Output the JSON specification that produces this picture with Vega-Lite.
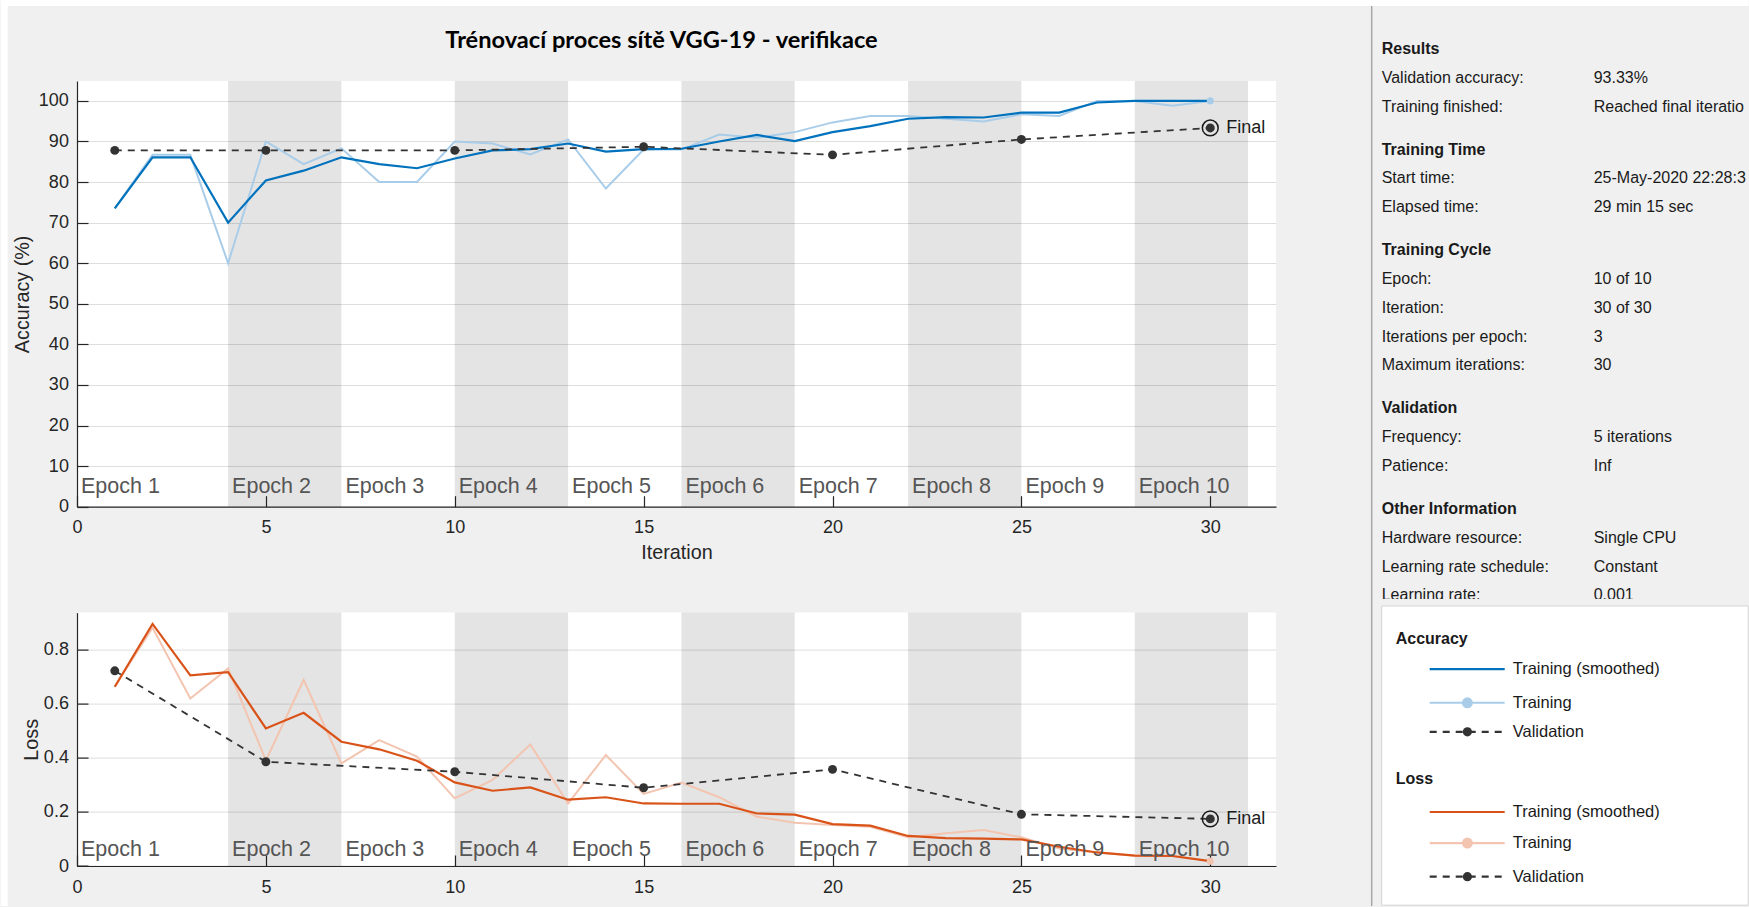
{
  "$schema": "https://vega.github.io/schema/vega-lite/v6.json",
  "background": "#f0f0f0",
  "padding": 0,
  "autosize": {"type": "pad"},
  "config": {
    "font": "Liberation Sans",
    "view": {"stroke": null},
    "axis": {
      "labelFont": "Liberation Sans", "labelFontSize": 18, "labelColor": "#262626", "labelFlush": false,
      "titleFont": "Liberation Sans", "titleFontSize": 19.8, "titleFontWeight": "normal", "titleColor": "#262626",
      "domainColor": "#262626", "domainWidth": 1.2,
      "tickColor": "#262626", "tickSize": -11, "tickWidth": 1.2,
      "gridColor": "#dedede", "gridWidth": 1
    }
  },
  "datasets": {
    "train": [
      {"it": 1, "accRaw": 73.5, "accSmooth": 73.5, "lossRaw": 0.662, "lossSmooth": 0.662},
      {"it": 2, "accRaw": 86.7, "accSmooth": 86.1, "lossRaw": 0.88, "lossSmooth": 0.894},
      {"it": 3, "accRaw": 86.7, "accSmooth": 86.1, "lossRaw": 0.619, "lossSmooth": 0.704},
      {"it": 4, "accRaw": 60.0, "accSmooth": 70.0, "lossRaw": 0.73, "lossSmooth": 0.716},
      {"it": 5, "accRaw": 90.0, "accSmooth": 80.4, "lossRaw": 0.39, "lossSmooth": 0.508},
      {"it": 6, "accRaw": 84.4, "accSmooth": 82.8, "lossRaw": 0.687, "lossSmooth": 0.566},
      {"it": 7, "accRaw": 88.3, "accSmooth": 86.1, "lossRaw": 0.379, "lossSmooth": 0.459},
      {"it": 8, "accRaw": 80.0, "accSmooth": 84.4, "lossRaw": 0.465, "lossSmooth": 0.431},
      {"it": 9, "accRaw": 80.0, "accSmooth": 83.4, "lossRaw": 0.404, "lossSmooth": 0.389},
      {"it": 10, "accRaw": 90.0, "accSmooth": 85.8, "lossRaw": 0.25, "lossSmooth": 0.309},
      {"it": 11, "accRaw": 89.5, "accSmooth": 87.8, "lossRaw": 0.318, "lossSmooth": 0.278},
      {"it": 12, "accRaw": 86.8, "accSmooth": 88.1, "lossRaw": 0.449, "lossSmooth": 0.29},
      {"it": 13, "accRaw": 90.5, "accSmooth": 89.5, "lossRaw": 0.231, "lossSmooth": 0.245},
      {"it": 14, "accRaw": 78.4, "accSmooth": 87.5, "lossRaw": 0.41, "lossSmooth": 0.254},
      {"it": 15, "accRaw": 88.0, "accSmooth": 88.1, "lossRaw": 0.266, "lossSmooth": 0.231},
      {"it": 16, "accRaw": 88.0, "accSmooth": 88.2, "lossRaw": 0.308, "lossSmooth": 0.23},
      {"it": 17, "accRaw": 91.7, "accSmooth": 90.0, "lossRaw": 0.254, "lossSmooth": 0.23},
      {"it": 18, "accRaw": 90.9, "accSmooth": 91.6, "lossRaw": 0.182, "lossSmooth": 0.194},
      {"it": 19, "accRaw": 92.3, "accSmooth": 90.1, "lossRaw": 0.16, "lossSmooth": 0.19},
      {"it": 20, "accRaw": 94.7, "accSmooth": 92.3, "lossRaw": 0.151, "lossSmooth": 0.155},
      {"it": 21, "accRaw": 96.3, "accSmooth": 93.8, "lossRaw": 0.145, "lossSmooth": 0.149},
      {"it": 22, "accRaw": 96.3, "accSmooth": 95.6, "lossRaw": 0.106, "lossSmooth": 0.111},
      {"it": 23, "accRaw": 95.6, "accSmooth": 96.0, "lossRaw": 0.121, "lossSmooth": 0.103},
      {"it": 24, "accRaw": 94.9, "accSmooth": 95.9, "lossRaw": 0.133, "lossSmooth": 0.101},
      {"it": 25, "accRaw": 96.7, "accSmooth": 97.1, "lossRaw": 0.106, "lossSmooth": 0.098},
      {"it": 26, "accRaw": 96.3, "accSmooth": 97.1, "lossRaw": 0.065, "lossSmooth": 0.071},
      {"it": 27, "accRaw": 100, "accSmooth": 99.6, "lossRaw": 0.05, "lossSmooth": 0.05},
      {"it": 28, "accRaw": 100, "accSmooth": 100, "lossRaw": 0.039, "lossSmooth": 0.038},
      {"it": 29, "accRaw": 98.8, "accSmooth": 100, "lossRaw": 0.037, "lossSmooth": 0.037},
      {"it": 30, "accRaw": 100, "accSmooth": 100, "lossRaw": 0.018, "lossSmooth": 0.018}
    ],
    "val": [
      {"it": 1, "acc": 87.8, "loss": 0.721},
      {"it": 5, "acc": 87.8, "loss": 0.385},
      {"it": 10, "acc": 87.8, "loss": 0.348},
      {"it": 15, "acc": 88.7, "loss": 0.289},
      {"it": 20, "acc": 86.7, "loss": 0.357},
      {"it": 25, "acc": 90.5, "loss": 0.191},
      {"it": 30, "acc": 93.33, "loss": 0.174}
    ],
    "epochs": [
      {"epoch": "Epoch 1", "start": 0, "end": 4, "shaded": false},
      {"epoch": "Epoch 2", "start": 4, "end": 7, "shaded": true},
      {"epoch": "Epoch 3", "start": 7, "end": 10, "shaded": false},
      {"epoch": "Epoch 4", "start": 10, "end": 13, "shaded": true},
      {"epoch": "Epoch 5", "start": 13, "end": 16, "shaded": false},
      {"epoch": "Epoch 6", "start": 16, "end": 19, "shaded": true},
      {"epoch": "Epoch 7", "start": 19, "end": 22, "shaded": false},
      {"epoch": "Epoch 8", "start": 22, "end": 25, "shaded": true},
      {"epoch": "Epoch 9", "start": 25, "end": 28, "shaded": false},
      {"epoch": "Epoch 10", "start": 28, "end": 31, "shaded": true}
    ],
    "info": [
      {"line": 0, "label": "Results", "value": "", "kind": "heading"},
      {"line": 1, "label": "Validation accuracy:", "value": "93.33%", "kind": "item"},
      {"line": 2, "label": "Training finished:", "value": "Reached final iteration", "kind": "item"},
      {"line": 3.5, "label": "Training Time", "value": "", "kind": "heading"},
      {"line": 4.5, "label": "Start time:", "value": "25-May-2020 22:28:34", "kind": "item"},
      {"line": 5.5, "label": "Elapsed time:", "value": "29 min 15 sec", "kind": "item"},
      {"line": 7, "label": "Training Cycle", "value": "", "kind": "heading"},
      {"line": 8, "label": "Epoch:", "value": "10 of 10", "kind": "item"},
      {"line": 9, "label": "Iteration:", "value": "30 of 30", "kind": "item"},
      {"line": 10, "label": "Iterations per epoch:", "value": "3", "kind": "item"},
      {"line": 11, "label": "Maximum iterations:", "value": "30", "kind": "item"},
      {"line": 12.5, "label": "Validation", "value": "", "kind": "heading"},
      {"line": 13.5, "label": "Frequency:", "value": "5 iterations", "kind": "item"},
      {"line": 14.5, "label": "Patience:", "value": "Inf", "kind": "item"},
      {"line": 16, "label": "Other Information", "value": "", "kind": "heading"},
      {"line": 17, "label": "Hardware resource:", "value": "Single CPU", "kind": "item"},
      {"line": 18, "label": "Learning rate schedule:", "value": "Constant", "kind": "item"},
      {"line": 19, "label": "Learning rate:", "value": "0.001", "kind": "item"}
    ],
    "legend": [
      {"line": 20.52, "label": "Accuracy", "kind": "heading", "series": "none", "marker": "none"},
      {"line": 21.57, "label": "Training (smoothed)", "kind": "entry", "series": "accSmooth", "marker": "none"},
      {"line": 22.74, "label": "Training", "kind": "entry", "series": "accRaw", "marker": "raw"},
      {"line": 23.75, "label": "Validation", "kind": "entry", "series": "accVal", "marker": "val"},
      {"line": 25.38, "label": "Loss", "kind": "heading", "series": "none", "marker": "none"},
      {"line": 26.54, "label": "Training (smoothed)", "kind": "entry", "series": "lossSmooth", "marker": "none"},
      {"line": 27.62, "label": "Training", "kind": "entry", "series": "lossRaw", "marker": "raw"},
      {"line": 28.79, "label": "Validation", "kind": "entry", "series": "lossVal", "marker": "val"}
    ],
    "one": [{"k": 1}]
  },
  "columns": 2,
  "spacing": {"row": 105.6, "column": 95.7},
  "bounds": "flush",
  "concat": [
    {
      "width": 1199, "height": 425.7,
      "view": {"fill": "white", "stroke": null},
      "title": {"text": "Trénovací proces sítě VGG-19 - verifikace", "font": "Lato", "fontSize": 23.6, "fontWeight": "bold", "color": "#000000", "anchor": "middle", "offset": 28, "dx": -15},
      "layer": [
        {
          "data": {"name": "epochs"},
          "transform": [{"filter": "datum.shaded"}],
          "mark": {"type": "rect", "color": "#000000", "opacity": 0.105},
          "encoding": {
            "x": {"field": "start", "type": "quantitative"},
            "x2": {"field": "end"}
          }
        },
        {
          "data": {"name": "train"},
          "mark": {"type": "line", "color": "#a9cde9", "strokeWidth": 2},
          "encoding": {
            "x": {"field": "it", "type": "quantitative", "scale": {"domain": [0, 31.74], "nice": false, "zero": false},
                  "axis": {"title": "Iteration", "values": [0, 5, 10, 15, 20, 25, 30], "grid": false, "labelPadding": 23, "titlePadding": 6}},
            "y": {"field": "accRaw", "type": "quantitative", "scale": {"domain": [0, 104.9], "nice": false},
                  "axis": {"title": "Accuracy (%)", "values": [0, 10, 20, 30, 40, 50, 60, 70, 80, 90, 100], "grid": true, "labelPadding": 19.6, "titlePadding": 6}}
          }
        },
        {
          "data": {"name": "train"},
          "mark": {"type": "line", "color": "#0072bd", "strokeWidth": 2.2},
          "encoding": {
            "x": {"field": "it", "type": "quantitative"},
            "y": {"field": "accSmooth", "type": "quantitative"}
          }
        },
        {
          "data": {"name": "val"},
          "mark": {"type": "line", "color": "#333333", "strokeWidth": 1.8, "strokeDash": [7, 6]},
          "encoding": {
            "x": {"field": "it", "type": "quantitative"},
            "y": {"field": "acc", "type": "quantitative"}
          }
        },
        {
          "data": {"name": "val"},
          "mark": {"type": "point", "shape": "circle", "filled": true, "color": "#333333", "opacity": 1, "size": 80},
          "encoding": {
            "x": {"field": "it", "type": "quantitative"},
            "y": {"field": "acc", "type": "quantitative"}
          }
        },
        {
          "data": {"name": "train"},
          "transform": [{"filter": "datum.it == 30"}],
          "mark": {"type": "point", "shape": "circle", "filled": true, "color": "#a9cde9", "opacity": 1, "size": 50},
          "encoding": {
            "x": {"field": "it", "type": "quantitative"},
            "y": {"field": "accRaw", "type": "quantitative"}
          }
        },
        {
          "data": {"name": "val"},
          "transform": [{"filter": "datum.it == 30"}],
          "mark": {"type": "point", "shape": "circle", "filled": false, "color": "#1a1a1a", "strokeWidth": 1.5, "opacity": 1, "size": 250},
          "encoding": {
            "x": {"field": "it", "type": "quantitative"},
            "y": {"field": "acc", "type": "quantitative"}
          }
        },
        {
          "data": {"name": "val"},
          "transform": [{"filter": "datum.it == 30"}],
          "mark": {"type": "text", "align": "left", "baseline": "middle", "dx": 16, "fontSize": 18, "color": "#1a1a1a", "text": "Final"},
          "encoding": {
            "x": {"field": "it", "type": "quantitative"},
            "y": {"field": "acc", "type": "quantitative"}
          }
        },
        {
          "data": {"name": "epochs"},
          "mark": {"type": "text", "align": "left", "baseline": "alphabetic", "dx": 4, "dy": -13.4, "fontSize": 21.5, "color": "#555555"},
          "encoding": {
            "x": {"field": "start", "type": "quantitative"},
            "y": {"datum": 0, "type": "quantitative"},
            "text": {"field": "epoch"}
          }
        }
      ]
    },
    {
      "width": 378, "height": 425.7,
      "view": {"stroke": null},
      "layer": [
        {
          "data": {"name": "one"},
          "mark": {"type": "rect", "color": "#ffffff"},
          "encoding": {
            "x": {"datum": -362.698, "type": "quantitative", "scale": {"domain": [0, 100], "nice": false, "zero": false}, "axis": null},
            "x2": {"datum": 99.735},
            "y": {"datum": -1.70435, "type": "quantitative", "scale": {"domain": [1.11304, 15.92], "nice": false, "zero": false, "reverse": true}, "axis": null},
            "y2": {"datum": -1.49565}
          }
        },
        {
          "data": {"name": "one"},
          "mark": {"type": "rect", "color": "#ffffff"},
          "encoding": {
            "x": {"datum": -362.698, "type": "quantitative"},
            "x2": {"datum": -360.847},
            "y": {"datum": -1.70435, "type": "quantitative"},
            "y2": {"datum": 29.8087}
          }
        },
        {
          "data": {"name": "one"},
          "mark": {"type": "rule", "color": "#a8a8a8", "strokeWidth": 1.5},
          "encoding": {
            "x": {"datum": 0, "type": "quantitative"},
            "y": {"datum": -1.49565, "type": "quantitative"},
            "y2": {"datum": 29.8087}
          }
        },
        {
          "data": {"name": "info"},
          "transform": [{"filter": "datum.kind == 'heading'"}],
          "mark": {"type": "text", "align": "left", "baseline": "middle", "fontSize": 16, "fontWeight": "bold", "color": "#1a1a1a"},
          "encoding": {
            "x": {"datum": 2.6455, "type": "quantitative"},
            "y": {"field": "line", "type": "quantitative"},
            "text": {"field": "label"}
          }
        },
        {
          "data": {"name": "info"},
          "transform": [{"filter": "datum.kind == 'item'"}],
          "mark": {"type": "text", "align": "left", "baseline": "middle", "fontSize": 16, "color": "#1a1a1a"},
          "encoding": {
            "x": {"datum": 2.6455, "type": "quantitative"},
            "y": {"field": "line", "type": "quantitative"},
            "text": {"field": "label"}
          }
        },
        {
          "data": {"name": "info"},
          "transform": [{"filter": "datum.kind == 'item'"}],
          "mark": {"type": "text", "align": "left", "baseline": "middle", "fontSize": 16, "color": "#1a1a1a", "limit": 158, "ellipsis": " "},
          "encoding": {
            "x": {"datum": 58.73, "type": "quantitative"},
            "y": {"field": "line", "type": "quantitative"},
            "text": {"field": "value"}
          }
        },
        {
          "data": {"name": "one"},
          "mark": {"type": "rect", "color": "#f0f0f0"},
          "encoding": {
            "x": {"datum": 1.3228, "type": "quantitative"},
            "x2": {"datum": 99.735},
            "y": {"datum": 19.1304, "type": "quantitative"},
            "y2": {"datum": 19.3739}
          }
        },
        {
          "data": {"name": "one"},
          "mark": {"type": "rect", "fill": "#ffffff", "stroke": "#d4d4d4", "strokeWidth": 1},
          "encoding": {
            "x": {"datum": 2.6455, "type": "quantitative"},
            "x2": {"datum": 99.6},
            "y": {"datum": 19.3739, "type": "quantitative"},
            "y2": {"datum": 29.78}
          }
        },
        {
          "data": {"name": "legend"},
          "transform": [{"filter": "datum.kind == 'heading'"}],
          "mark": {"type": "text", "align": "left", "baseline": "middle", "fontSize": 16, "fontWeight": "bold", "color": "#1a1a1a"},
          "encoding": {
            "x": {"datum": 6.3492, "type": "quantitative"},
            "y": {"field": "line", "type": "quantitative"},
            "text": {"field": "label"}
          }
        },
        {
          "data": {"name": "legend"},
          "transform": [{"filter": "datum.kind == 'entry'"}],
          "mark": {"type": "rule", "strokeWidth": 2.2},
          "encoding": {
            "x": {"datum": 15.344, "type": "quantitative"},
            "x2": {"datum": 35.185},
            "y": {"field": "line", "type": "quantitative"},
            "color": {"field": "series", "type": "nominal", "legend": null,
                      "scale": {"domain": ["accSmooth", "accRaw", "accVal", "lossSmooth", "lossRaw", "lossVal"],
                                "range": ["#0072bd", "#a9cde9", "#333333", "#d95319", "#f3c5b0", "#333333"]}},
            "strokeDash": {"field": "series", "type": "nominal", "legend": null,
                      "scale": {"domain": ["accSmooth", "accRaw", "accVal", "lossSmooth", "lossRaw", "lossVal"],
                                "range": [[1, 0], [1, 0], [7, 6], [1, 0], [1, 0], [7, 6]]}}
          }
        },
        {
          "data": {"name": "legend"},
          "transform": [{"filter": "datum.marker == 'raw'"}],
          "mark": {"type": "point", "shape": "circle", "filled": true, "opacity": 1, "size": 120},
          "encoding": {
            "x": {"datum": 25.317, "type": "quantitative"},
            "y": {"field": "line", "type": "quantitative"},
            "color": {"field": "series", "type": "nominal", "legend": null}
          }
        },
        {
          "data": {"name": "legend"},
          "transform": [{"filter": "datum.marker == 'val'"}],
          "mark": {"type": "point", "shape": "circle", "filled": true, "opacity": 1, "size": 85},
          "encoding": {
            "x": {"datum": 25.317, "type": "quantitative"},
            "y": {"field": "line", "type": "quantitative"},
            "color": {"field": "series", "type": "nominal", "legend": null}
          }
        },
        {
          "data": {"name": "legend"},
          "transform": [{"filter": "datum.kind == 'entry'"}],
          "mark": {"type": "text", "align": "left", "baseline": "middle", "fontSize": 16.5, "color": "#1a1a1a"},
          "encoding": {
            "x": {"datum": 37.302, "type": "quantitative"},
            "y": {"field": "line", "type": "quantitative"},
            "text": {"field": "label"}
          }
        }
      ]
    },
    {
      "width": 1199, "height": 253.4,
      "view": {"fill": "white", "stroke": null},
      "layer": [
        {
          "data": {"name": "epochs"},
          "transform": [{"filter": "datum.shaded"}],
          "mark": {"type": "rect", "color": "#000000", "opacity": 0.105},
          "encoding": {
            "x": {"field": "start", "type": "quantitative"},
            "x2": {"field": "end"}
          }
        },
        {
          "data": {"name": "train"},
          "mark": {"type": "line", "color": "#f3c5b0", "strokeWidth": 2},
          "encoding": {
            "x": {"field": "it", "type": "quantitative", "scale": {"domain": [0, 31.74], "nice": false, "zero": false},
                  "axis": {"title": null, "values": [0, 5, 10, 15, 20, 25, 30], "grid": false, "labelPadding": 23}},
            "y": {"field": "lossRaw", "type": "quantitative", "scale": {"domain": [0, 0.936], "nice": false},
                  "axis": {"title": "Loss", "values": [0, 0.2, 0.4, 0.6, 0.8], "format": "~f", "grid": true, "labelPadding": 19.6, "titlePadding": 2}}
          }
        },
        {
          "data": {"name": "train"},
          "mark": {"type": "line", "color": "#d95319", "strokeWidth": 2.2},
          "encoding": {
            "x": {"field": "it", "type": "quantitative"},
            "y": {"field": "lossSmooth", "type": "quantitative"}
          }
        },
        {
          "data": {"name": "val"},
          "mark": {"type": "line", "color": "#333333", "strokeWidth": 1.8, "strokeDash": [7, 6]},
          "encoding": {
            "x": {"field": "it", "type": "quantitative"},
            "y": {"field": "loss", "type": "quantitative"}
          }
        },
        {
          "data": {"name": "val"},
          "mark": {"type": "point", "shape": "circle", "filled": true, "color": "#333333", "opacity": 1, "size": 80},
          "encoding": {
            "x": {"field": "it", "type": "quantitative"},
            "y": {"field": "loss", "type": "quantitative"}
          }
        },
        {
          "data": {"name": "train"},
          "transform": [{"filter": "datum.it == 30"}],
          "mark": {"type": "point", "shape": "circle", "filled": true, "color": "#f3c5b0", "opacity": 1, "size": 50},
          "encoding": {
            "x": {"field": "it", "type": "quantitative"},
            "y": {"field": "lossRaw", "type": "quantitative"}
          }
        },
        {
          "data": {"name": "val"},
          "transform": [{"filter": "datum.it == 30"}],
          "mark": {"type": "point", "shape": "circle", "filled": false, "color": "#1a1a1a", "strokeWidth": 1.5, "opacity": 1, "size": 250},
          "encoding": {
            "x": {"field": "it", "type": "quantitative"},
            "y": {"field": "loss", "type": "quantitative"}
          }
        },
        {
          "data": {"name": "val"},
          "transform": [{"filter": "datum.it == 30"}],
          "mark": {"type": "text", "align": "left", "baseline": "middle", "dx": 16, "fontSize": 18, "color": "#1a1a1a", "text": "Final"},
          "encoding": {
            "x": {"field": "it", "type": "quantitative"},
            "y": {"field": "loss", "type": "quantitative"}
          }
        },
        {
          "data": {"name": "epochs"},
          "mark": {"type": "text", "align": "left", "baseline": "alphabetic", "dx": 4, "dy": -9.7, "fontSize": 21.5, "color": "#555555"},
          "encoding": {
            "x": {"field": "start", "type": "quantitative"},
            "y": {"datum": 0, "type": "quantitative"},
            "text": {"field": "epoch"}
          }
        }
      ]
    }
  ]
}
